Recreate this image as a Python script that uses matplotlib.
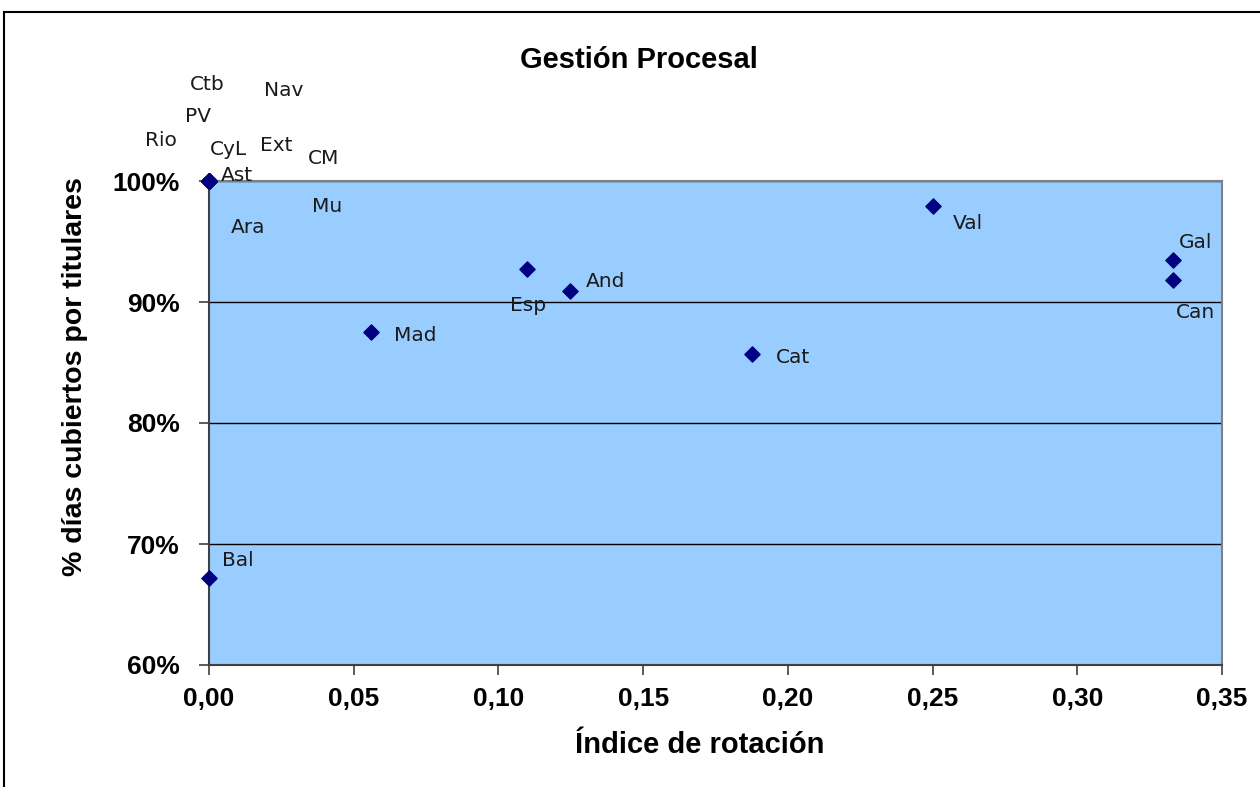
import matplotlib
matplotlib.use('Agg')
import matplotlib.pyplot as plt
from matplotlib.lines import Line2D
from matplotlib.ticker import FuncFormatter

# Datos: indice de rotacion vs % dias cubiertos por titulares
regiones = ['Rio', 'PV', 'Ctb', 'CyL', 'Nav', 'Ext', 'CM', 'Mu', 'Ast', 'Ara',
            'Bal', 'Mad', 'Esp', 'And', 'Cat', 'Val', 'Gal', 'Can']
rotacion = [0.0, 0.0, 0.0, 0.0, 0.0, 0.0, 0.0, 0.0, 0.0, 0.0,
            0.0, 0.056, 0.110, 0.1247, 0.1876, 0.250, 0.333, 0.333]
cubiertos = [1.0, 1.0, 1.0, 1.0, 1.0, 1.0, 1.0, 1.0, 1.0, 1.0,
             0.672, 0.875, 0.927, 0.909, 0.857, 0.979, 0.935, 0.918]

# desplazamiento de cada etiqueta (pixeles) respecto a su punto
desplaz = {'Rio': (-48, 41), 'PV': (-11, 65), 'Ctb': (-2, 97), 'CyL': (19, 32),
           'Nav': (75, 91), 'Ext': (67, 36), 'CM': (115, 23), 'Mu': (118, -25),
           'Ast': (28, 6), 'Ara': (39, -46), 'Bal': (29, 17), 'Mad': (44, -3),
           'Esp': (1, -36), 'And': (36, 10), 'Cat': (41, -3), 'Val': (35, -17),
           'Gal': (23, 17), 'Can': (23, -32)}

fig = plt.figure(figsize=(12.6, 7.87), dpi=100)
ax = fig.add_axes([209/1260, 1-665/787, (1222-209)/1260, (665-181)/787])
ax.set_facecolor('#99CCFF')

ax.scatter(rotacion, cubiertos, marker='D', s=60, color='#000080', zorder=5, clip_on=False)

for nombre, x, y in zip(regiones, rotacion, cubiertos):
    dx, dy = desplaz[nombre]
    ax.annotate(nombre, (x, y), xytext=(dx, dy), textcoords='offset pixels',
                ha='center', va='center', fontsize=14.5, color='#1a1a1a',
                family='DejaVu Sans', annotation_clip=False, zorder=6)

ax.set_xlim(0, 0.35)
ax.set_ylim(0.6, 1.0)
ax.set_xticks([0, 0.05, 0.10, 0.15, 0.20, 0.25, 0.30, 0.35])
ax.set_yticks([0.6, 0.7, 0.8, 0.9, 1.0])
ax.xaxis.set_major_formatter(FuncFormatter(lambda v, p: f'{v:.2f}'.replace('.', ',')))
ax.yaxis.set_major_formatter(FuncFormatter(lambda v, p: f'{v*100:.0f}%'))
ax.grid(axis='y', color='black', linewidth=1)
ax.set_axisbelow(True)
ax.tick_params(direction='out', length=7, width=1.2, color='#404040', labelsize=19)
ax.tick_params(axis='x', pad=9)
ax.tick_params(axis='y', pad=14)
for lab in ax.get_xticklabels() + ax.get_yticklabels():
    lab.set_fontweight('bold')
    lab.set_family('Liberation Sans')
for s in ['left', 'bottom']:
    ax.spines[s].set_color('#404040')
    ax.spines[s].set_linewidth(1.5)
for s in ['top', 'right']:
    ax.spines[s].set_color('#808080')
    ax.spines[s].set_linewidth(1.5)

fig.text(639/1260, 1-60/787, 'Gestión Procesal', ha='center', va='center',
         fontsize=21, fontweight='bold', family='Liberation Sans')
fig.text(700/1260, 1-745/787, 'Índice de rotación', ha='center', va='center',
         fontsize=21, fontweight='bold', family='Liberation Sans')
fig.text(75/1260, 1-377/787, '% días cubiertos por titulares', ha='center', va='center',
         rotation=90, fontsize=20.5, fontweight='bold', family='Liberation Sans')

# borde del area del grafico
fig.add_artist(Line2D([4/1260, 1.0], [1-12/787, 1-12/787], color='black', linewidth=1.5))
fig.add_artist(Line2D([4/1260, 4/1260], [0.0, 1-12/787], color='black', linewidth=1.5))

fig.savefig('out.png', dpi=100)
